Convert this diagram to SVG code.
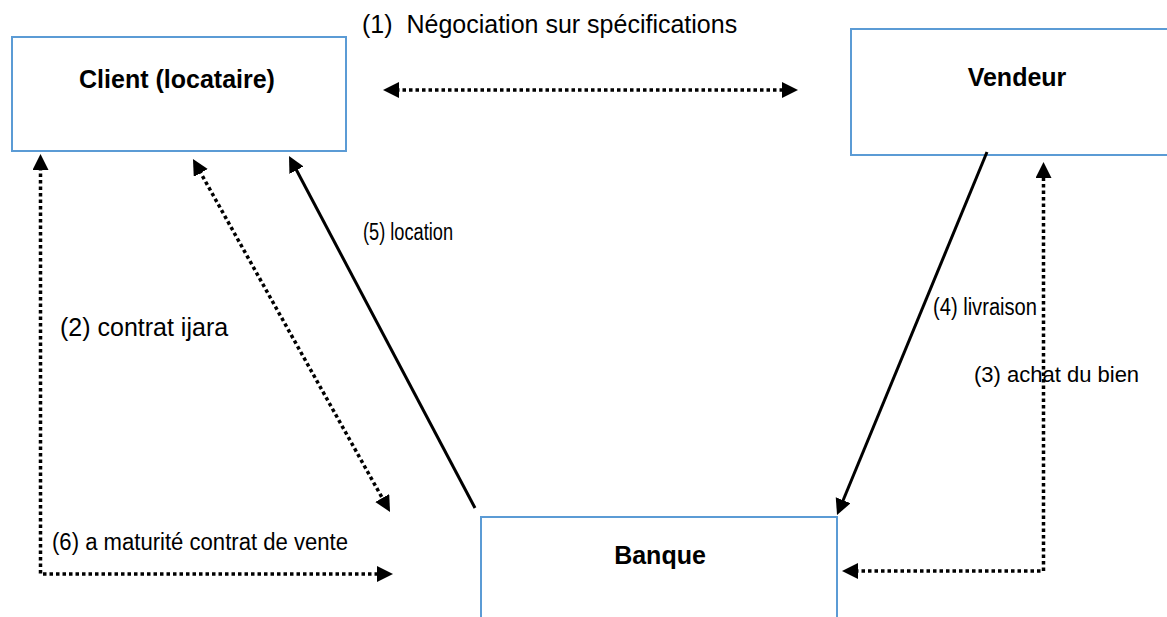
<svg xmlns="http://www.w3.org/2000/svg" width="1167" height="617" viewBox="0 0 1167 617">
<style>
  .box { fill: #ffffff; stroke: #5B9BD5; stroke-width: 2; }
  .title { font-family: "Liberation Sans", Arial, sans-serif; font-weight: bold; font-size: 25px; fill: #000; text-anchor: middle; }
  .lbl { font-family: "Liberation Sans", Arial, sans-serif; font-size: 25px; fill: #000; }
  .dot { fill: none; stroke: #000; stroke-width: 3.5; stroke-dasharray: 3.5 3; }
  .solid { fill: none; stroke: #000; stroke-width: 3; }
</style>
<defs>
  <marker id="ah" markerUnits="userSpaceOnUse" markerWidth="17" markerHeight="17" refX="3" refY="8" orient="auto-start-reverse">
    <path d="M0,0 L16,8 L0,16 Z" fill="#000"/>
  </marker>
</defs>
<rect width="1167" height="617" fill="#ffffff"/>
<g id="client">
  <rect class="box" x="12" y="37" width="334" height="114"/>
  <text class="title" x="177" y="88">Client (locataire)</text>
</g>
<g id="vendeur">
  <rect class="box" x="851" y="29" width="330" height="126"/>
  <text class="title" x="1017" y="86">Vendeur</text>
</g>
<g id="banque">
  <rect class="box" x="481" y="517" width="356" height="130"/>
  <text class="title" x="660" y="564">Banque</text>
</g>
<g id="connectors">
  <line class="dot" x1="396" y1="90" x2="785" y2="90" marker-start="url(#ah)" marker-end="url(#ah)"/>
  <path class="dot" d="M40.5,167 V574 H380" marker-start="url(#ah)" marker-end="url(#ah)"/>
  <line class="dot" x1="199.3" y1="170.4" x2="383.7" y2="500.6" marker-start="url(#ah)" marker-end="url(#ah)"/>
  <line class="solid" x1="475" y1="508" x2="295.1" y2="167.5" marker-end="url(#ah)"/>
  <line class="solid" x1="987" y1="152" x2="842" y2="503" marker-end="url(#ah)"/>
  <path class="dot" d="M855,571 H1043.5 V175" marker-start="url(#ah)" marker-end="url(#ah)"/>
</g>
<g id="labels">
  <text class="lbl" x="362" y="33" xml:space="preserve">(1)  Négociation sur spécifications</text>
  <text class="lbl" x="60" y="336" font-size="26">(2) contrat ijara</text>
  <text class="lbl" x="974" y="382" style="font-size:22px">(3) achat du bien</text>
  <text class="lbl" x="933" y="315" style="font-size:23px" textLength="104" lengthAdjust="spacingAndGlyphs">(4) livraison</text>
  <text class="lbl" x="363" y="240" style="font-size:23px" textLength="90" lengthAdjust="spacingAndGlyphs">(5) location</text>
  <text class="lbl" x="52" y="550" style="font-size:23px" textLength="296" lengthAdjust="spacingAndGlyphs">(6) a maturité contrat de vente</text>
</g>
</svg>
